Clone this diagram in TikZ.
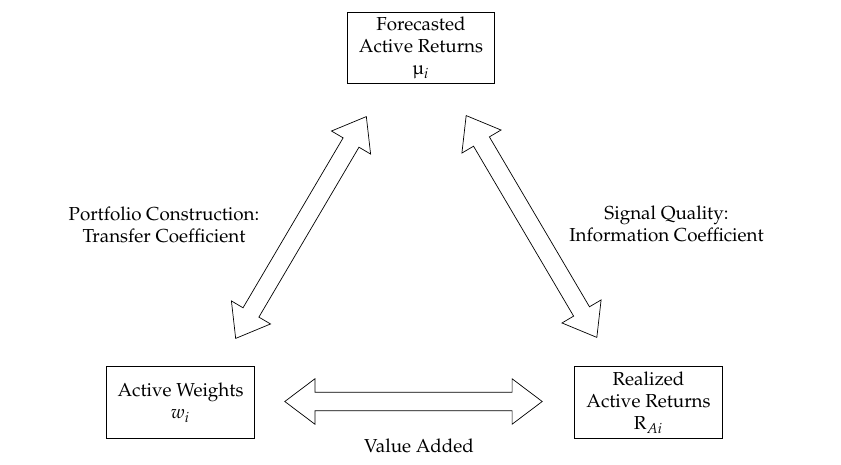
\documentclass[tikz,border=0pt]{standalone}
\usepackage[T1]{fontenc}
\usepackage{mathpazo}
\usepackage{textcomp}
\usetikzlibrary{shapes.arrows}
\begin{document}
\begin{tikzpicture}
[x = .02cm, y = -.02cm, font=\fontsize{10.7pt}{12.6pt}\selectfont,
box/.style ={draw, thick, align=center, minimum width=2.95cm, minimum height=1.43cm, inner sep=2pt},
fat/.style ={draw, double arrow, double arrow tip angle=74, double arrow head extend=.27cm,
  inner xsep=0pt, inner ysep=.177cm, minimum height=5.15cm},
lbl/.style ={align=center}]
\useasboundingbox (0,0) rectangle (841,465);
\node[box] (fore) at (421,48) {Forecasted\\Active Returns\\\textmu$_i$};
\node[box] (wts) at (180.5,402.5) {Active Weights\\$w_i$};
\node[box] (real) at (648.5,402.5) {Realized\\Active Returns\\R$_{Ai}$};
\node[fat, rotate=59.5] (tc) at (301,227.5) {};
\node[fat, rotate=-59.5] (ic) at (531.5,226.5) {};
\node[fat] (va) at (413.5,401.5) {};
\node[lbl] at (164,224.5) {Portfolio Construction:\\Transfer Coefficient};
\node[lbl] at (666.5,224) {Signal Quality:\\Information Coefficient};
\node[lbl] at (419,446) {Value Added};
\end{tikzpicture}
\end{document}
